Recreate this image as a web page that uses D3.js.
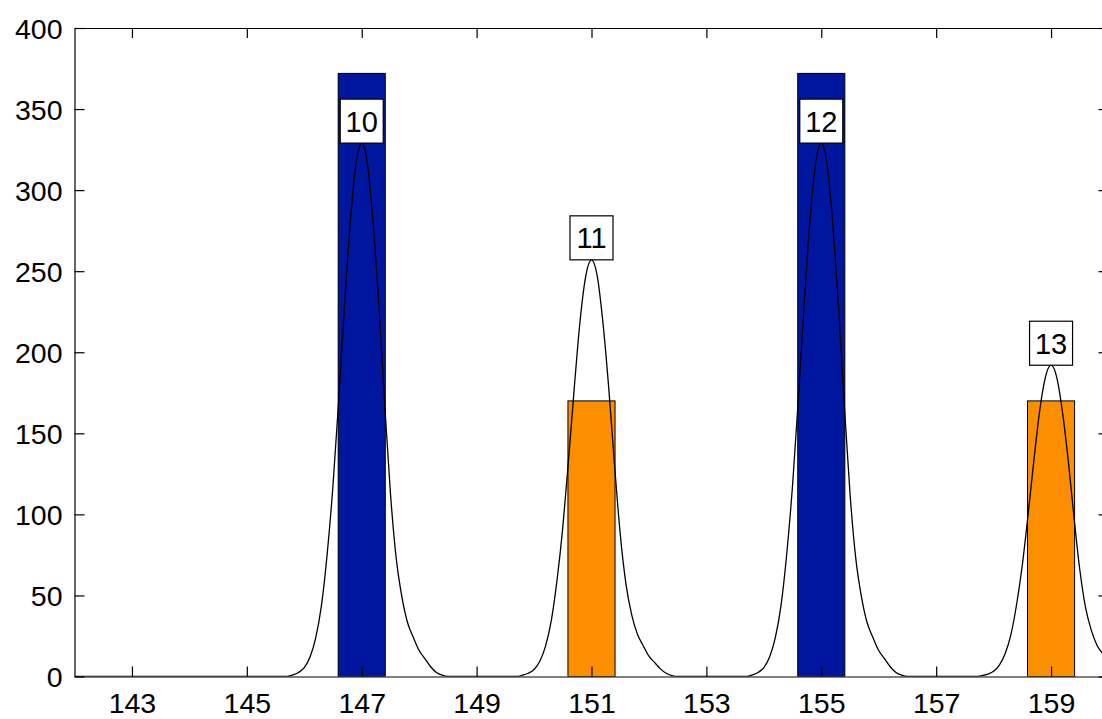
<!DOCTYPE html>
<html>
<head>
<meta charset="utf-8">
<script src="https://cdn.jsdelivr.net/npm/d3@7"></script>
<style>
  html, body { margin: 0; padding: 0; background: #fff; }
  svg { display: block; }
  .tick text { font-family: "Liberation Sans", Arial, sans-serif; }
</style>
</head>
<body>
<svg id="chart" width="1102" height="719"></svg>
<script>
// Ion positions (m/z), stick heights and charge-state labels
const ionMz = [147, 151, 155, 159];
const ionHeights = [372, 170, 372, 170];
const ionLabels = ["10", "11", "12", "13"];
const ionKinds = ["even", "odd", "even", "odd"];

// Envelope apex heights used to anchor the labels
const apexHeights = [329, 257, 329, 192];

// Smoothed profile envelope: [m/z, intensity]
const profile = [
  [142.0, 0], [145.7, 0],
  [145.8, 1], [145.9, 2.5], [146.0, 5.5], [146.1, 12], [146.2, 24], [146.3, 44],
  [146.4, 76], [146.5, 118], [146.6, 171], [146.7, 228], [146.8, 280], [146.9, 316],
  [147.0, 329], [147.1, 316], [147.2, 279], [147.3, 228], [147.4, 168], [147.5, 113],
  [147.6, 73], [147.7, 49], [147.8, 33], [147.9, 24], [148.0, 16], [148.1, 11],
  [148.2, 6], [148.3, 2.5], [148.4, 0.8], [148.5, 0],
  [149.7, 0],
  [149.8, 0.8], [149.9, 2], [150.0, 4.3], [150.1, 9.4], [150.2, 18.7], [150.3, 34.4],
  [150.4, 59.4], [150.5, 92], [150.6, 133.5], [150.7, 178], [150.8, 219], [150.9, 247],
  [151.0, 257], [151.1, 247], [151.2, 218], [151.3, 178], [151.4, 131], [151.5, 88],
  [151.6, 57], [151.7, 38], [151.8, 26], [151.9, 19], [152.0, 12.5], [152.1, 8.6],
  [152.2, 4.7], [152.3, 2], [152.4, 0.6], [152.5, 0],
  [153.7, 0],
  [153.8, 1], [153.9, 2.5], [154.0, 5.5], [154.1, 12], [154.2, 24], [154.3, 44],
  [154.4, 76], [154.5, 118], [154.6, 171], [154.7, 228], [154.8, 280], [154.9, 316],
  [155.0, 329], [155.1, 316], [155.2, 279], [155.3, 228], [155.4, 168], [155.5, 113],
  [155.6, 73], [155.7, 49], [155.8, 33], [155.9, 24], [156.0, 16], [156.1, 11],
  [156.2, 6], [156.3, 2.5], [156.4, 0.8], [156.5, 0],
  [157.7, 0],
  [157.8, 0.6], [157.9, 1.5], [158.0, 3.2], [158.1, 7], [158.2, 14], [158.3, 25.7],
  [158.4, 44.4], [158.5, 68.9], [158.6, 99.8], [158.7, 133], [158.8, 163.4], [158.9, 184.4],
  [159.0, 192], [159.1, 184.4], [159.2, 162.8], [159.3, 133], [159.4, 98], [159.5, 66],
  [159.6, 42.6], [159.7, 28.6], [159.8, 19.3], [159.9, 14], [160.0, 9.3], [160.1, 6.4]
];

const xTicks = [143, 145, 147, 149, 151, 153, 155, 157, 159];
const yTicks = [0, 50, 100, 150, 200, 250, 300, 350, 400];

// ---- drawing ----
const svg = d3.select("#chart");
const x = d3.scaleLinear().domain([142, 160]).range([74.5, 1108.5]);
const y = d3.scaleLinear().domain([0, 400]).range([676.5, 28]);
const barWidth = 0.82;
const fill = { even: "#00169e", odd: "#fb8f00" };
const FONT = "Liberation Sans, Arial, sans-serif";

svg.append("defs").append("clipPath").attr("id", "plot")
  .append("rect")
  .attr("x", x(142)).attr("y", y(400))
  .attr("width", x(160) - x(142)).attr("height", y(0) - y(400));

const plot = svg.append("g").attr("clip-path", "url(#plot)");

// sticks
plot.selectAll("rect.bar")
  .data(ionMz.map((m, i) => ({ m, h: ionHeights[i], k: ionKinds[i] })))
  .join("rect")
  .attr("class", "bar")
  .attr("x", d => x(d.m - barWidth / 2))
  .attr("width", d => x(d.m + barWidth / 2) - x(d.m - barWidth / 2))
  .attr("y", d => y(d.h))
  .attr("height", d => y(0) - y(d.h))
  .attr("fill", d => fill[d.k])
  .attr("stroke", "#000")
  .attr("stroke-width", 1);

// envelope
const line = d3.line()
  .x(d => x(d[0]))
  .y(d => y(d[1]))
  .curve(d3.curveMonotoneX);

plot.append("path")
  .datum(profile)
  .attr("d", line)
  .attr("fill", "none")
  .attr("stroke", "#000")
  .attr("stroke-width", 1.3);

// axes (MATLAB style: inward ticks, box)
const tickLen = 10;
const axisBottom = d3.axisBottom(x).tickValues(xTicks).tickFormat(d3.format("d"))
  .tickSizeInner(-tickLen).tickSizeOuter(0).tickPadding(16);
const axisTop = d3.axisTop(x).tickValues(xTicks).tickFormat("")
  .tickSizeInner(-tickLen).tickSizeOuter(0);
const axisLeft = d3.axisLeft(y).tickValues(yTicks).tickFormat(d3.format("d"))
  .tickSizeInner(-tickLen).tickSizeOuter(0).tickPadding(12);
const axisRight = d3.axisRight(y).tickValues(yTicks).tickFormat("")
  .tickSizeInner(-tickLen).tickSizeOuter(0);

function styleAxis(g) {
  g.select(".domain").attr("stroke", "#000").attr("stroke-width", 1.2);
  g.selectAll(".tick line").attr("stroke", "#000").attr("stroke-width", 1.2);
  g.selectAll(".tick text").attr("fill", "#000").style("font-size", "28.5px").style("font-family", FONT);
}

svg.append("g").attr("transform", `translate(0,${y(0)})`).call(axisBottom).call(styleAxis);
svg.append("g").attr("transform", `translate(0,${y(400)})`).call(axisTop).call(styleAxis);
svg.append("g").attr("transform", `translate(${x(142)},0)`).call(axisLeft).call(styleAxis)
  .selectAll(".tick text").attr("dy", "0.36em");
svg.append("g").attr("transform", `translate(${x(160)},0)`).call(axisRight).call(styleAxis);

// charge-state labels sitting on top of each envelope apex
const boxW = 43, boxH = 44;
const labels = svg.selectAll("g.lbl")
  .data(ionMz.map((m, i) => ({ m, top: apexHeights[i], t: ionLabels[i] })))
  .join("g")
  .attr("class", "lbl")
  .attr("transform", d => `translate(${x(d.m)},${y(d.top)})`);

labels.append("rect")
  .attr("x", -boxW / 2).attr("y", -boxH)
  .attr("width", boxW).attr("height", boxH)
  .attr("fill", "#fff").attr("stroke", "#000").attr("stroke-width", 1.2);

labels.append("text")
  .attr("x", 0).attr("y", -boxH / 2)
  .attr("dy", "0.36em")
  .attr("text-anchor", "middle")
  .style("font-family", FONT)
  .style("font-size", "29px")
  .attr("fill", "#000")
  .text(d => d.t);
</script>
</body>
</html>
